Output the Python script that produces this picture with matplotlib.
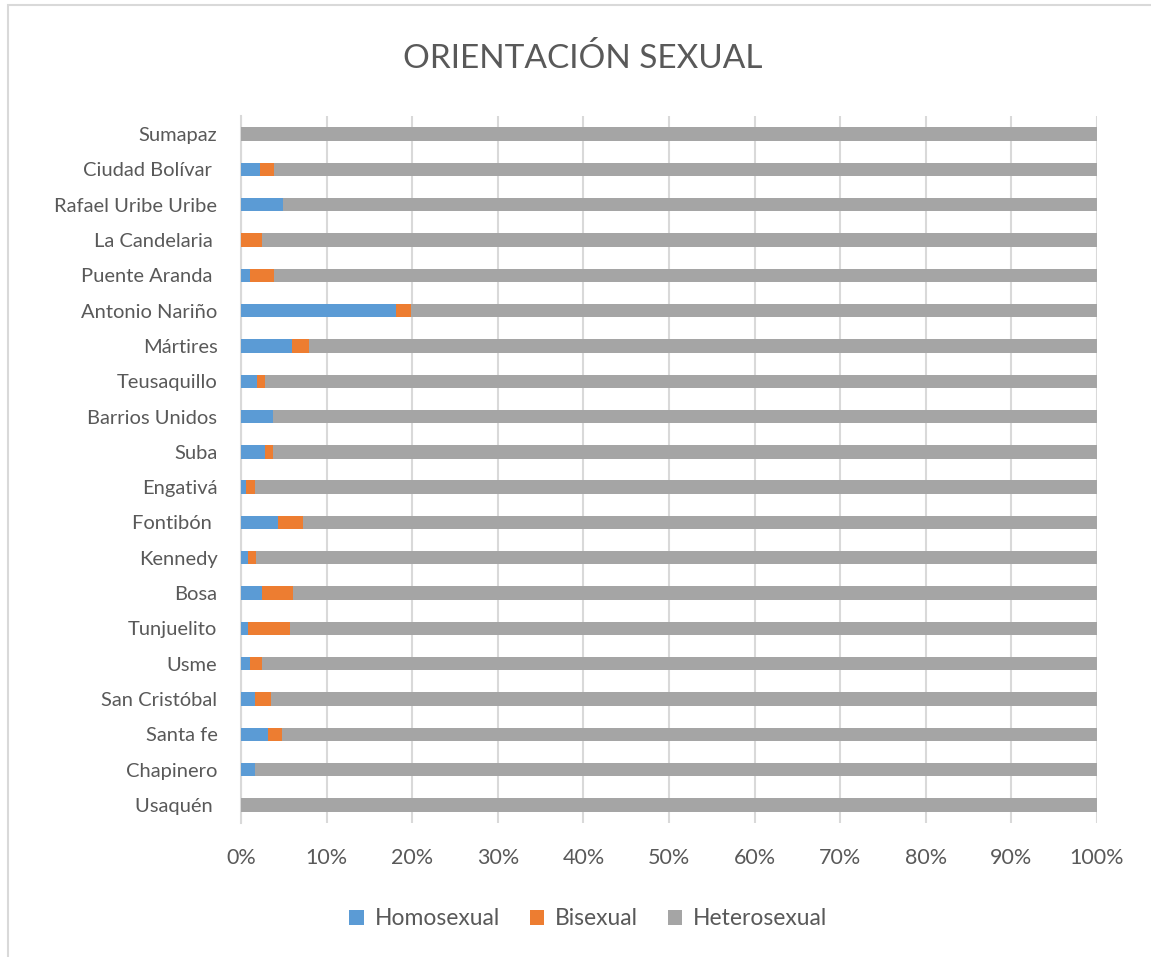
import numpy as np
import matplotlib
matplotlib.use("Agg")
import matplotlib.pyplot as plt
from matplotlib.patches import Rectangle

# localidades, from bottom to top as drawn
localidades = ["Usaquén ", "Chapinero", "Santa fe", "San Cristóbal", "Usme",
               "Tunjuelito", "Bosa", "Kennedy", "Fontibón ", "Engativá",
               "Suba", "Barrios Unidos", "Teusaquillo", "Mártires",
               "Antonio Nariño", "Puente Aranda ", "La Candelaria ",
               "Rafael Uribe Uribe", "Ciudad Bolívar ", "Sumapaz"]

# percentages
homosexual = [0.0, 1.6, 3.2, 1.6, 1.1, 0.8, 2.5, 0.8, 4.3, 0.6,
              2.8, 3.7, 1.9, 5.9, 18.1, 1.1, 0.0, 4.9, 2.2, 0.0]
bisexual = [0.0, 0.0, 1.6, 1.9, 1.3, 4.9, 3.6, 0.9, 2.9, 1.0,
            0.9, 0.0, 0.9, 2.0, 1.7, 2.7, 2.4, 0.0, 1.7, 0.0]
heterosexual = [100 - h - b for h, b in zip(homosexual, bisexual)]

series = ["Homosexual", "Bisexual", "Heterosexual"]
colors = ["#5B9BD5", "#ED7D31", "#A5A5A5"]
xticks = np.arange(0, 101, 10)

plt.rcParams["font.family"] = ["Lato", "DejaVu Sans"]
text_color = "#595959"

fig = plt.figure(figsize=(11.51, 9.57), dpi=100)
ax = fig.add_axes([0.2094, 0.1404, 0.7437, 0.7380])

y = np.arange(len(localidades))
left = np.zeros(len(localidades))
for name, vals, col in zip(series, [homosexual, bisexual, heterosexual], colors):
    ax.barh(y, vals, left=left, height=0.38, color=col, label=name, zorder=3)
    left += np.array(vals)

ax.set_xlim(0, 100)
ax.set_ylim(-0.5, len(localidades) - 0.5)
ax.set_xticks(xticks)
ax.set_xticklabels([f"{v}%" for v in xticks])
ax.set_yticks(y)
ax.set_yticklabels(localidades)
ax.tick_params(axis="x", length=0, labelsize=15.5, colors=text_color, pad=18)
ax.tick_params(axis="y", length=0, labelsize=14.5, colors=text_color, pad=17)
ax.grid(axis="x", color="#D9D9D9", linewidth=1.5, zorder=0)
for s in ["top", "right", "bottom"]:
    ax.spines[s].set_visible(False)
ax.spines["left"].set_color("#D9D9D9")
ax.spines["left"].set_linewidth(1.5)

fig.text(0.506, 0.939, "ORIENTACIÓN SEXUAL", ha="center", va="center",
         fontsize=24, color=text_color)

fig.legend(loc="center", bbox_to_anchor=(0.511, 0.040), ncol=3, frameon=False,
           fontsize=16.5, labelcolor=text_color, handlelength=0.65,
           handleheight=0.65, handletextpad=0.45, columnspacing=1.3)

# chart border (left and top edges visible)
fig.patches.append(Rectangle((8 / 1151, -0.01), 1.1, 1.0 - 5 / 957 + 0.01,
                             transform=fig.transFigure, fill=False,
                             edgecolor="#D9D9D9", linewidth=1.5))

fig.savefig("out.png", dpi=100)
